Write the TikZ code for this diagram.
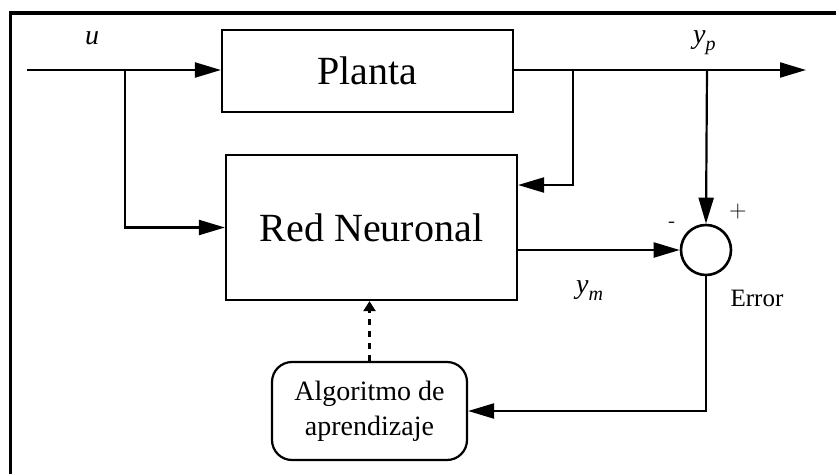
\documentclass[tikz,border=0pt]{standalone}
\usepackage{fontspec}
\setmainfont{Liberation Serif}
\usetikzlibrary{arrows.meta,calc}
% italic symbol with a lowered subscript
\newcommand{\sigsym}[2]{\textit{#1}\raisebox{-7pt}{\fontsize{20}{22}\selectfont\textit{#2}}}
\begin{document}
\begin{tikzpicture}[x=1pt,y=-1pt,
  block/.style={draw,line width=2.2pt,inner sep=0pt,
    font=\fontsize{40}{44}\selectfont},
  wire/.style={line width=2.2pt},
  sig/.style={wire,-{Triangle[length=26pt,width=15pt]}},
  lbl/.style={inner sep=0pt,font=\fontsize{28}{30}\selectfont}]
  \useasboundingbox (0,0) rectangle (836,474);
  % frame
  \draw[line width=3.5pt] (10.5,474) -- (10.5,13) -- (836,13);

  % blocks
  \node[block,minimum width=291pt,minimum height=82pt] (plant) at (367.5,71) {Planta};
  \node[block,minimum width=291pt,minimum height=145pt] (net) at (371.5,227.5) {Red Neuronal};
  \node[draw,circle,line width=2.6pt,minimum size=50pt,inner sep=0pt] (sum) at (706,250) {};
  \node[block,rounded corners=20pt,minimum width=195pt,minimum height=98pt,
        align=center,font=\fontsize{28}{35}\selectfont] (alg) at (369.5,411)
        {Algoritmo de\\aprendizaje};

  % named points on the wires
  \coordinate (uin) at (27,70);
  \coordinate (ubr) at (125,70);
  \coordinate (ypbr) at (573,70);
  \coordinate (errbr) at (707,70);
  \coordinate (yout) at (806,70);
  \coordinate (fbin) at (net.east |- 0,185);

  % input u
  \draw[sig] (uin) -- (plant.west |- uin);
  \draw[sig] (ubr) |- (net.west);
  % plant output y_p
  \draw[sig] (plant.east |- uin) -- (yout);
  \draw[sig] (ypbr) |- (fbin);
  \draw[sig] (errbr) -- (sum.north);
  % model output y_m
  \draw[sig] (net.east |- sum.west) -- (sum.west);
  % error to learning algorithm
  \draw[sig] (sum.south) |- (alg.east);
  % weight update
  \draw[wire,dash pattern=on 6pt off 6pt,-{Triangle[length=10pt,width=12pt]}]
    (alg.north) -- (alg.north |- net.south);

  % labels
  \node[lbl,anchor=base] (lu) at (92,44) {\textit{u}};
  \node[lbl,anchor=base west] (lyp) at (693,43) {\sigsym{y}{p}};
  \node[lbl,anchor=base west] (lym) at (576,293) {\sigsym{y}{m}};
  \node[inner sep=0pt,font=\fontsize{25}{28}\selectfont] (lerr) at (757,298) {Error};
  \node[inner sep=0pt,font=\fontsize{22}{24}\sffamily] (lminus) at (672,225) {-};
  \node[inner sep=0pt,font=\fontsize{24}{26}\sffamily] (lplus) at (738,212) {+};
\end{tikzpicture}
\end{document}
